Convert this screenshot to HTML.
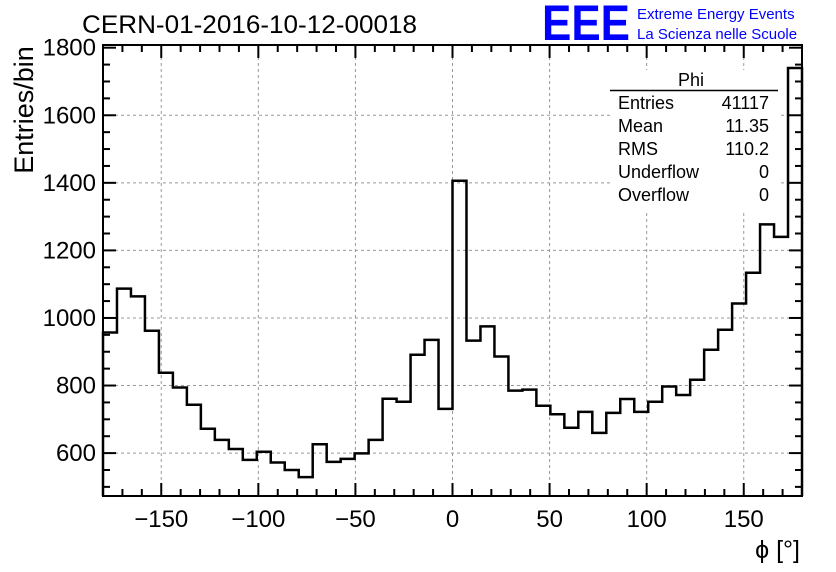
<!DOCTYPE html>
<html><head><meta charset="utf-8"><style>
html,body{margin:0;padding:0;background:#fff;}
svg{display:block;font-family:"Liberation Sans",sans-serif;}
</style></head><body>
<svg id="c" width="836" height="572" viewBox="0 0 836 572">
<rect x="0" y="0" width="836" height="572" fill="#fff"/>
<text x="82" y="33" font-size="25" textLength="335" lengthAdjust="spacingAndGlyphs">CERN-01-2016-10-12-00018</text>
<text x="542" y="40" font-size="50" fill="#0000ff" font-weight="bold" textLength="88" lengthAdjust="spacingAndGlyphs">EEE</text>
<text x="637" y="19" font-size="15" fill="#0000ff">Extreme Energy Events</text>
<text x="637" y="39" font-size="15" fill="#0000ff">La Scienza nelle Scuole</text>
<g id="grid"></g>
<g id="hist"></g>
<g id="axes"></g>
<text x="33" y="110" font-size="27" text-anchor="middle" transform="rotate(-90 33 110)">Entries/bin</text>
<text x="800" y="558" font-size="25" text-anchor="end">ϕ [°]</text>
<g>
<rect x="610" y="70" width="168" height="140" fill="#fff"/>
<text x="691" y="86" font-size="18" text-anchor="middle">Phi</text>
<line x1="610" y1="90.5" x2="778" y2="90.5" stroke="#000" stroke-width="1.5"/>
<g font-size="18" id="stats"></g>
</g>
</svg>
<script>
const binEdgesMin = -180, binEdgesMax = 180;
const counts = [957,1087,1064,962,838,794,743,672,639,612,580,604,572,550,529,626,574,583,599,639,761,752,891,935,731,1406,933,975,886,785,788,740,715,675,722,660,719,760,722,752,797,772,817,906,965,1043,1134,1277,1240,1740];
const xTicks = [-150,-100,-50,0,50,100,150];
const yTicks = [600,800,1000,1200,1400,1600,1800];
const statLabels = ["Entries","Mean","RMS","Underflow","Overflow"];
const statValues = ["41117","11.35","110.2","0","0"];

const L=103,R=802,T=45,B=496;
const xMin=-180,xMax=180,yMin=473,yMax=1808;
const X=v=>L+(v-xMin)/(xMax-xMin)*(R-L);
const Y=v=>B-(v-yMin)/(yMax-yMin)*(B-T);
const NS="http://www.w3.org/2000/svg";
function mk(tag,attrs,parent){const e=document.createElementNS(NS,tag);for(const k in attrs)e.setAttribute(k,attrs[k]);parent.appendChild(e);return e;}
const grid=document.getElementById('grid'),hist=document.getElementById('hist'),axes=document.getElementById('axes');
xTicks.forEach(t=>{const l=mk('line',{x1:X(t),x2:X(t),y1:T,y2:B,stroke:'#999','stroke-dasharray':'3,3'},grid);

});
yTicks.forEach(t=>{if(t>=1800)return;const l=mk('line',{x1:L,x2:R,y1:Y(t),y2:Y(t),stroke:'#999','stroke-dasharray':'3,3'},grid);

});
const n=counts.length,w=(binEdgesMax-binEdgesMin)/n;
let d='M'+X(binEdgesMin)+','+B;
counts.forEach((c,i)=>{d+=' L'+X(binEdgesMin+i*w)+','+Y(c)+' L'+X(binEdgesMin+(i+1)*w)+','+Y(c);});
d+=' L'+X(binEdgesMax)+','+B;
const hp=mk('path',{d:d,fill:'none',stroke:'#000','stroke-width':2.5},hist);


const fr=mk('rect',{x:L,y:T,width:R-L,height:B-T,fill:'none',stroke:'#000','stroke-width':2},axes);


for(let v=-180;v<=180;v+=10){const maj=v%50===0;const len=maj?13:7;
mk('line',{x1:X(v),x2:X(v),y1:B,y2:B-len,stroke:'#000','stroke-width':2},axes);
mk('line',{x1:X(v),x2:X(v),y1:T,y2:T+len,stroke:'#000','stroke-width':2},axes);}
xTicks.forEach(t=>{const tx=mk('text',{x:X(t),y:527,'font-size':24,'text-anchor':'middle'},axes);tx.textContent=(t<0?'\u2212'+(-t):t);

});
for(let v=500;v<=1800;v+=50){const maj=v%200===0;const len=maj?13:7;
mk('line',{x1:L,x2:L+len,y1:Y(v),y2:Y(v),stroke:'#000','stroke-width':2},axes);
mk('line',{x1:R,x2:R-len,y1:Y(v),y2:Y(v),stroke:'#000','stroke-width':2},axes);}
yTicks.forEach(t=>{const tx=mk('text',{x:96,y:Y(t)+8,'font-size':24,'text-anchor':'end'},axes);tx.textContent=t;

});
const st=document.getElementById('stats');
statLabels.forEach((s,i)=>{const y=109+i*23;
const a=mk('text',{x:618,y:y},st);a.textContent=s;


const b=mk('text',{x:769,y:y,'text-anchor':'end'},st);b.textContent=statValues[i];

});
</script>
</body></html>
